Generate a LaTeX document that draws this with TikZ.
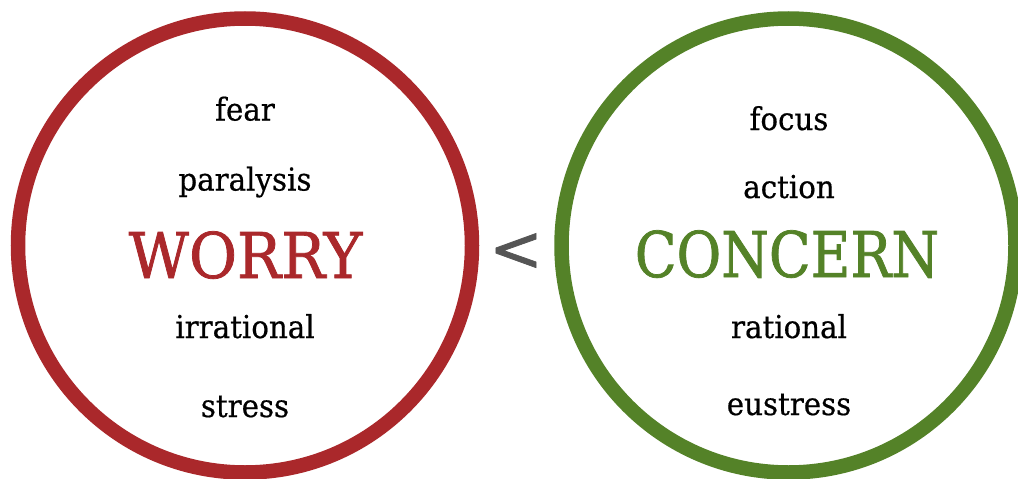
\documentclass[tikz,border=0pt]{standalone}
\usepackage{fontspec}
\setmainfont{DejaVu Serif}[FakeStretch=0.93,FakeBold=0.5]
\newfontfamily\worryfont{DejaVu Serif}[FakeStretch=0.93,FakeBold=1.2]
\newfontfamily\concernfont{DejaVu Serif}[FakeStretch=0.865,FakeBold=1.2]
\newfontfamily\ltfont{DejaVu Sans}[FakeBold=1.2]
\definecolor{worryred}{RGB}{170,40,43}
\definecolor{concerngreen}{RGB}{84,130,40}
\definecolor{ltgray}{RGB}{85,85,85}
\begin{document}
\begin{tikzpicture}[x=1pt,y=-1pt,
  ring/.style={circle,line width=14.5pt,minimum size=454pt,inner sep=0pt},
  word/.style={anchor=base,font=\fontsize{31.5}{31.5}\selectfont,text=black,inner sep=0pt},
  big/.style={anchor=base,inner sep=0pt}]
\useasboundingbox (0,0) rectangle (1018,479);
\node[ring,draw=worryred] (worry) at (245,245.5) {};
\node[ring,draw=concerngreen] (concern) at (788.5,245.5) {};
% left words
\node[word] (fear) at (245,120.5) {fear};
\node[word] (paralysis) at (245,190.5) {paralysis};
\node[big,text=worryred,font=\worryfont\fontsize{63}{63}\selectfont] (worryt) at (245.5,278) {WORRY};
\node[word] (irrational) at (245,338) {irrational};
\node[word] (stress) at (245,417) {stress};
% right words
\node[word] (focus) at (789,130) {focus};
\node[word] (action) at (789,198) {action};
\node[big,text=concerngreen,font=\concernfont\fontsize{63}{63}\selectfont] (concernt) at (787,277) {CONCERN};
\node[word] (rational) at (789,338) {rational};
\node[word] (eustress) at (789,415) {eustress};
% less-than sign
\node[font=\ltfont\fontsize{64}{64}\selectfont,text=ltgray,inner sep=0pt] (lt) at (516,252) {<};
\end{tikzpicture}
\end{document}
